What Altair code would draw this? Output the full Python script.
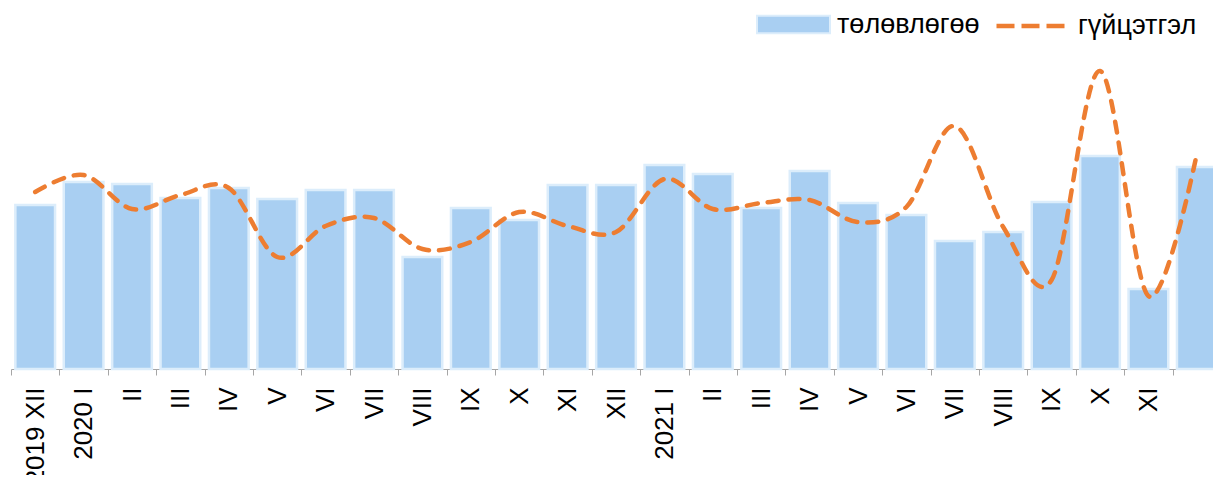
import json
import altair as alt
import pandas as pd

# ---- data ----
labels = ["2019 XII", "2020 I", "II", "III", "IV", "V", "VI", "VII", "VIII", "IX",
          "X", "XI", "XII", "2021 I", "II", "III", "IV", "V", "VI", "VII",
          "VIII", "IX", "X", "XI", ""]
plan = [164, 187, 185, 171, 181, 170, 179, 179, 112, 161,
        149, 184, 184, 204, 195, 161, 198, 166, 154, 128,
        137, 167, 213, 80, 202]
actual = [177, 194, 160, 174, 181, 112, 143, 151, 120, 127,
          157, 143, 137, 190, 160, 166, 169, 147, 162, 243,
          142, 89, 298, 73, 215]
plan_name = "төлөвлөгөө"
actual_name = "гүйцэтгэл"

FONT = "Liberation Sans, Arial, sans-serif"

df = pd.DataFrame({
    "i": list(range(len(labels))),
    "plan": plan,
    "actual": actual,
    "s1": [plan_name] * len(labels),
    "s2": [actual_name] * len(labels),
})

label_expr = json.dumps(labels, ensure_ascii=False) + "[datum.value]"

x = alt.X(
    "i:O",
    scale=alt.Scale(paddingInner=0, paddingOuter=0, round=False),
    axis=alt.Axis(
        title=None, labelExpr=label_expr, labelAngle=-90, labelAlign="right",
        labelBaseline="middle", labelFontSize=26, labelFont=FONT, labelColor="#000000",
        labelPadding=12, tickSize=6, tickColor="#a6a6a6", domainColor="#a6a6a6",
        tickBand="extent", labelOverlap=False, grid=False,
    ),
)
yscale = alt.Scale(domain=[0, 310])

bars = alt.Chart(df).mark_bar(
    width=alt.RelativeBandSize(0.82), stroke="#dcedfb", strokeWidth=2.5
).encode(
    x=x,
    y=alt.Y("plan:Q", scale=yscale, axis=None),
    fill=alt.Fill(
        "s1:N",
        scale=alt.Scale(domain=[plan_name], range=["#a9cff2"]),
        legend=alt.Legend(
            title=None, orient="none", legendX=745, legendY=-72, direction="horizontal",
            symbolType="M-1,-0.24H1V0.24H-1Z", symbolSize=5329,
            symbolStrokeColor="#dcedfb", symbolStrokeWidth=2,
            labelFontSize=27, labelFont=FONT, labelColor="#000000", labelOffset=6,
            padding=0,
        ),
    ),
)

line = alt.Chart(df).mark_line(
    interpolate="cardinal", strokeWidth=4.5, strokeDash=[11, 10], strokeCap="round"
).encode(
    x=x,
    y=alt.Y("actual:Q", scale=yscale, axis=None),
    stroke=alt.Stroke(
        "s2:N",
        scale=alt.Scale(domain=[actual_name], range=["#ed7d31"]),
        legend=alt.Legend(
            title=None, orient="none", legendX=983, legendY=-72, direction="horizontal",
            symbolType="stroke", symbolSize=5329, symbolStrokeWidth=4.5,
            symbolDash=[18, 7],
            labelFontSize=27, labelFont=FONT, labelColor="#000000", labelOffset=6,
            padding=0,
        ),
    ),
)

chart = alt.layer(bars, line).properties(
    width=1210,
    height=310,
    autosize=alt.AutoSizeParams(type="none"),
    padding={"left": 3, "top": 51, "right": -8, "bottom": 106},
).configure_view(stroke=None)

chart.save("out.html", embed_options={"renderer": "svg", "actions": False})
